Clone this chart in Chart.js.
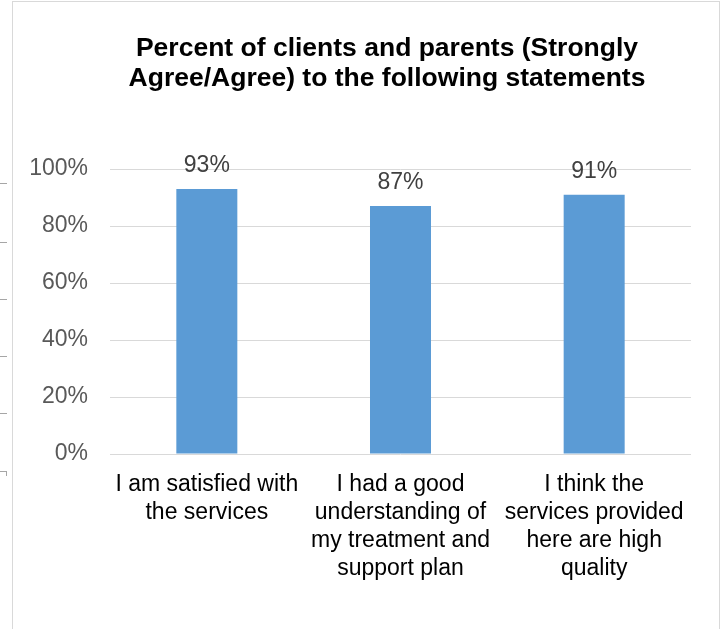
<!DOCTYPE html>
<html>
<head>
<meta charset="utf-8">
<script src="https://cdn.jsdelivr.net/npm/chart.js@4/dist/chart.umd.min.js"></script>
<style>
  html, body { margin: 0; padding: 0; background: #fff; overflow: hidden; }
  body { width: 721px; height: 629px; position: relative; overflow: hidden; }
  .frame {
    position: absolute; left: 12px; top: 1px; width: 706px; height: 640px;
    border: 1px solid #d9d9d9; border-bottom: none; z-index: 2;
  }
  .stub { position: absolute; left: 0; width: 7px; height: 1px; background: #a6a6a6; }
  #wrap { position: absolute; left: 20px; top: 0; width: 734px; height: 629px; }
</style>
</head>
<body>
<div class="stub" style="top:183px"></div>
<div class="stub" style="top:242px"></div>
<div class="stub" style="top:299px"></div>
<div class="stub" style="top:356px"></div>
<div class="stub" style="top:413px"></div>
<div class="stub" style="top:471px"></div>
<div class="stub" style="top:471px;left:6px;width:1px;height:5px"></div>
<div id="wrap"><canvas id="surveyChart"></canvas></div>
<div class="frame"></div>
<script>
const statements = [
    ['I am satisfied with', 'the services'],
    ['I had a good', 'understanding of', 'my treatment and', 'support plan'],
    ['I think the', 'services provided', 'here are high', 'quality']
];
const agreePercent = [93, 87, 91];
const yTicks = [0, 20, 40, 60, 80, 100];

const FONT = "'Liberation Sans', Arial, sans-serif";

// writes the percentage above each bar
const valueLabels = {
    id: 'valueLabels',
    afterDatasetsDraw(chart) {
        const ctx = chart.ctx;
        const meta = chart.getDatasetMeta(0);
        ctx.save();
        ctx.font = '23px ' + FONT;
        ctx.fillStyle = '#404040';
        ctx.textAlign = 'center';
        ctx.textBaseline = 'middle';
        meta.data.forEach((bar, i) => {
            ctx.fillText(agreePercent[i] + '%', bar.x, bar.y - 23);
        });
        ctx.restore();
    }
};

function initializeChart() {
    const ctx = document.getElementById('surveyChart').getContext('2d');
    new Chart(ctx, {
        type: 'bar',
        data: {
            labels: statements,
            datasets: [
                {
                    label: 'Strongly Agree/Agree',
                    data: agreePercent,
                    backgroundColor: '#5B9BD5',
                    borderWidth: 0,
                    categoryPercentage: 1,
                    barPercentage: 0.315,
                }
            ]
        },
        options: {
            responsive: true,
            maintainAspectRatio: false,
            animation: false,
            layout: {
                padding: 0
            },
            plugins: {
                legend: {display: false},
                tooltip: {enabled: false},
                title: {
                    display: true,
                    text: ['Percent of clients and parents (Strongly', 'Agree/Agree) to the following statements'],
                    color: '#000',
                    font: {family: FONT, size: 26.5, weight: 'bold', lineHeight: '30px'},
                    padding: {top: 34, bottom: 75}
                }
            },
            scales: {
                x: {
                    grid: {display: false, drawTicks: false},
                    border: {display: false},
                    ticks: {
                        color: '#000',
                        font: {family: FONT, size: 23, lineHeight: '28px'},
                        padding: 17,
                        maxRotation: 0,
                        autoSkip: false
                    },
                    afterFit(scale) { scale.height = 175; }
                },
                y: {
                    min: 0,
                    max: 100,
                    afterBuildTicks(scale) {
                        scale.ticks = yTicks.map(v => ({value: v}));
                    },
                    grid: {color: '#d9d9d9', lineWidth: 1, drawTicks: false},
                    border: {display: false},
                    ticks: {
                        color: '#595959',
                        font: {family: FONT, size: 23},
                        padding: 22,
                        callback: v => v + '%'
                    },
                    afterFit(scale) { scale.width = 90; }
                },
                // empty right-hand margin beside the plot
                yRight: {
                    position: 'right',
                    min: 0,
                    max: 100,
                    grid: {display: false, drawTicks: false},
                    border: {display: false},
                    ticks: {display: false},
                    afterFit(scale) { scale.width = 63; }
                }
            }
        },
        plugins: [valueLabels]
    });
}

window.onload = initializeChart;
</script>
</body>
</html>
